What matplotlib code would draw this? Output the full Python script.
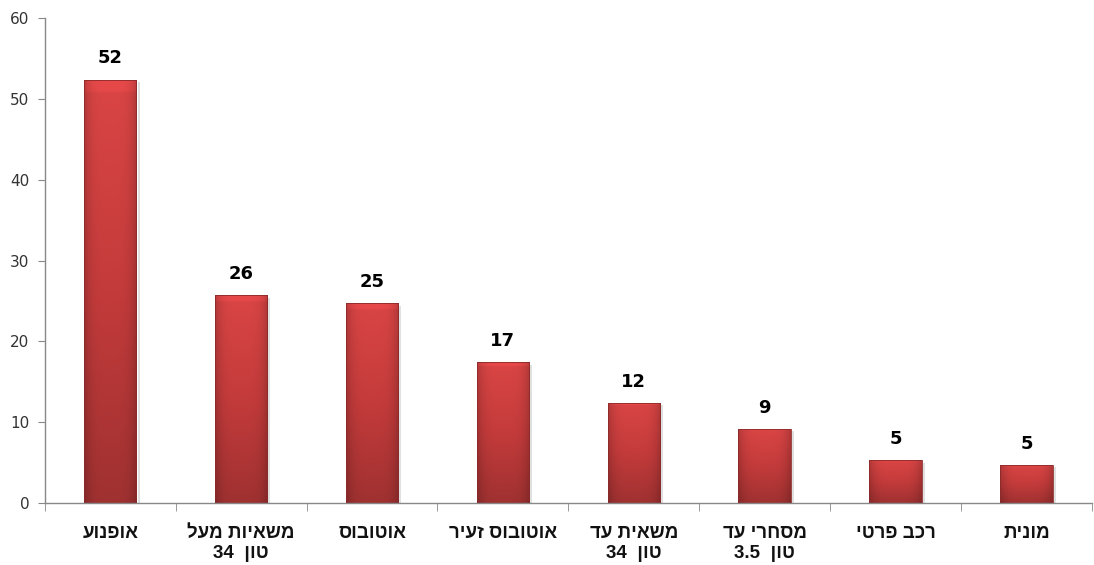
import numpy as np
import matplotlib.pyplot as plt
from matplotlib.colors import LinearSegmentedColormap

# logical (right-to-left) Hebrew labels, one entry per line
categories = [
    ["אופנוע"],
    ["משאיות מעל", "טון  34"],
    ["אוטובוס"],
    ["אוטובוס זעיר"],
    ["משאית עד", "טון  34"],
    ["מסחרי עד", "טון  3.5"],
    ["רכב פרטי"],
    ["מונית"],
]
values = [52.4, 25.7, 24.7, 17.4, 12.4, 9.2, 5.3, 4.7]
yticks = [0, 10, 20, 30, 40, 50, 60]


def visual(line):
    # matplotlib has no bidi: flip word order and hebrew words by hand
    out = []
    for w in line.split(" ")[::-1]:
        if any("\u0590" <= c <= "\u05ff" for c in w):
            w = w[::-1]
        out.append(w)
    return " ".join(out)


def hebrew_label(lines):
    return "\n".join(visual(l) for l in lines)


fig = plt.figure(figsize=(10.94, 5.65), dpi=100)
ax = fig.add_axes([0.041, 0.1097, 0.957, 0.8583])

x = np.arange(len(values))
width = 0.4
bars = ax.bar(x, values, width=width, color="none", edgecolor="#8a2a2a",
              linewidth=0.6, zorder=3)

# bar gradient: lighter top, darker bottom, darker edges
cmap = LinearSegmentedColormap.from_list("bar", ["#a03131", "#c43b3b", "#da4545"])
ny, nx = 100, 40
vert = np.linspace(0, 1, ny)[:, None]
horiz = 1 - 0.18 * np.abs(np.linspace(-1, 1, nx))[None, :] ** 4
for b, v in zip(bars, values):
    grad = cmap(vert * np.ones((1, nx)))
    grad[..., :3] *= horiz[..., None]
    # small bevel highlight at top
    top = grad[-3:, :, :3]
    grad[-3:, :, :3] = np.clip(top * 1.06, 0, 1)
    im = ax.imshow(grad, extent=[b.get_x(), b.get_x() + width, 0, v],
                   origin="lower", aspect="auto", zorder=2)
    im.set_clip_path(b)
    # soft shadow on the right
    ax.bar(b.get_x() + width + 0.008, v - 0.3, width=0.016, bottom=0,
           align="edge", color="#000000", alpha=0.12, zorder=1)

for xi, v in zip(x, values):
    ax.text(xi, v + 1.5, "%.0f" % v, ha="center", va="bottom",
            fontsize=13, fontweight="bold", family="DejaVu Sans", color="#000000")

ax.set_xlim(-0.5, len(values) - 0.5)
ax.set_ylim(0, 60)
ax.set_yticks(yticks)
ax.set_yticklabels([str(t) for t in yticks], fontsize=11, color="#333333",
                   family="DejaVu Sans")

ax.set_xticks(x)
ax.set_xticklabels([hebrew_label(c) for c in categories], fontsize=13.5,
                   fontweight="bold", family="Liberation Sans", color="#111111",
                   linespacing=1.2, va="top")
ax.set_xticks(np.arange(len(values) + 1) - 0.5, minor=True)
ax.tick_params(axis="x", which="major", length=0, pad=16)
ax.tick_params(axis="x", which="minor", length=6, direction="out", color="#888888")
ax.tick_params(axis="y", length=5, direction="out", color="#888888", pad=6)

for s in ["top", "right"]:
    ax.spines[s].set_visible(False)
for s in ["left", "bottom"]:
    ax.spines[s].set_color("#888888")
    ax.spines[s].set_linewidth(1.0)

fig.savefig("out.png", dpi=100)
